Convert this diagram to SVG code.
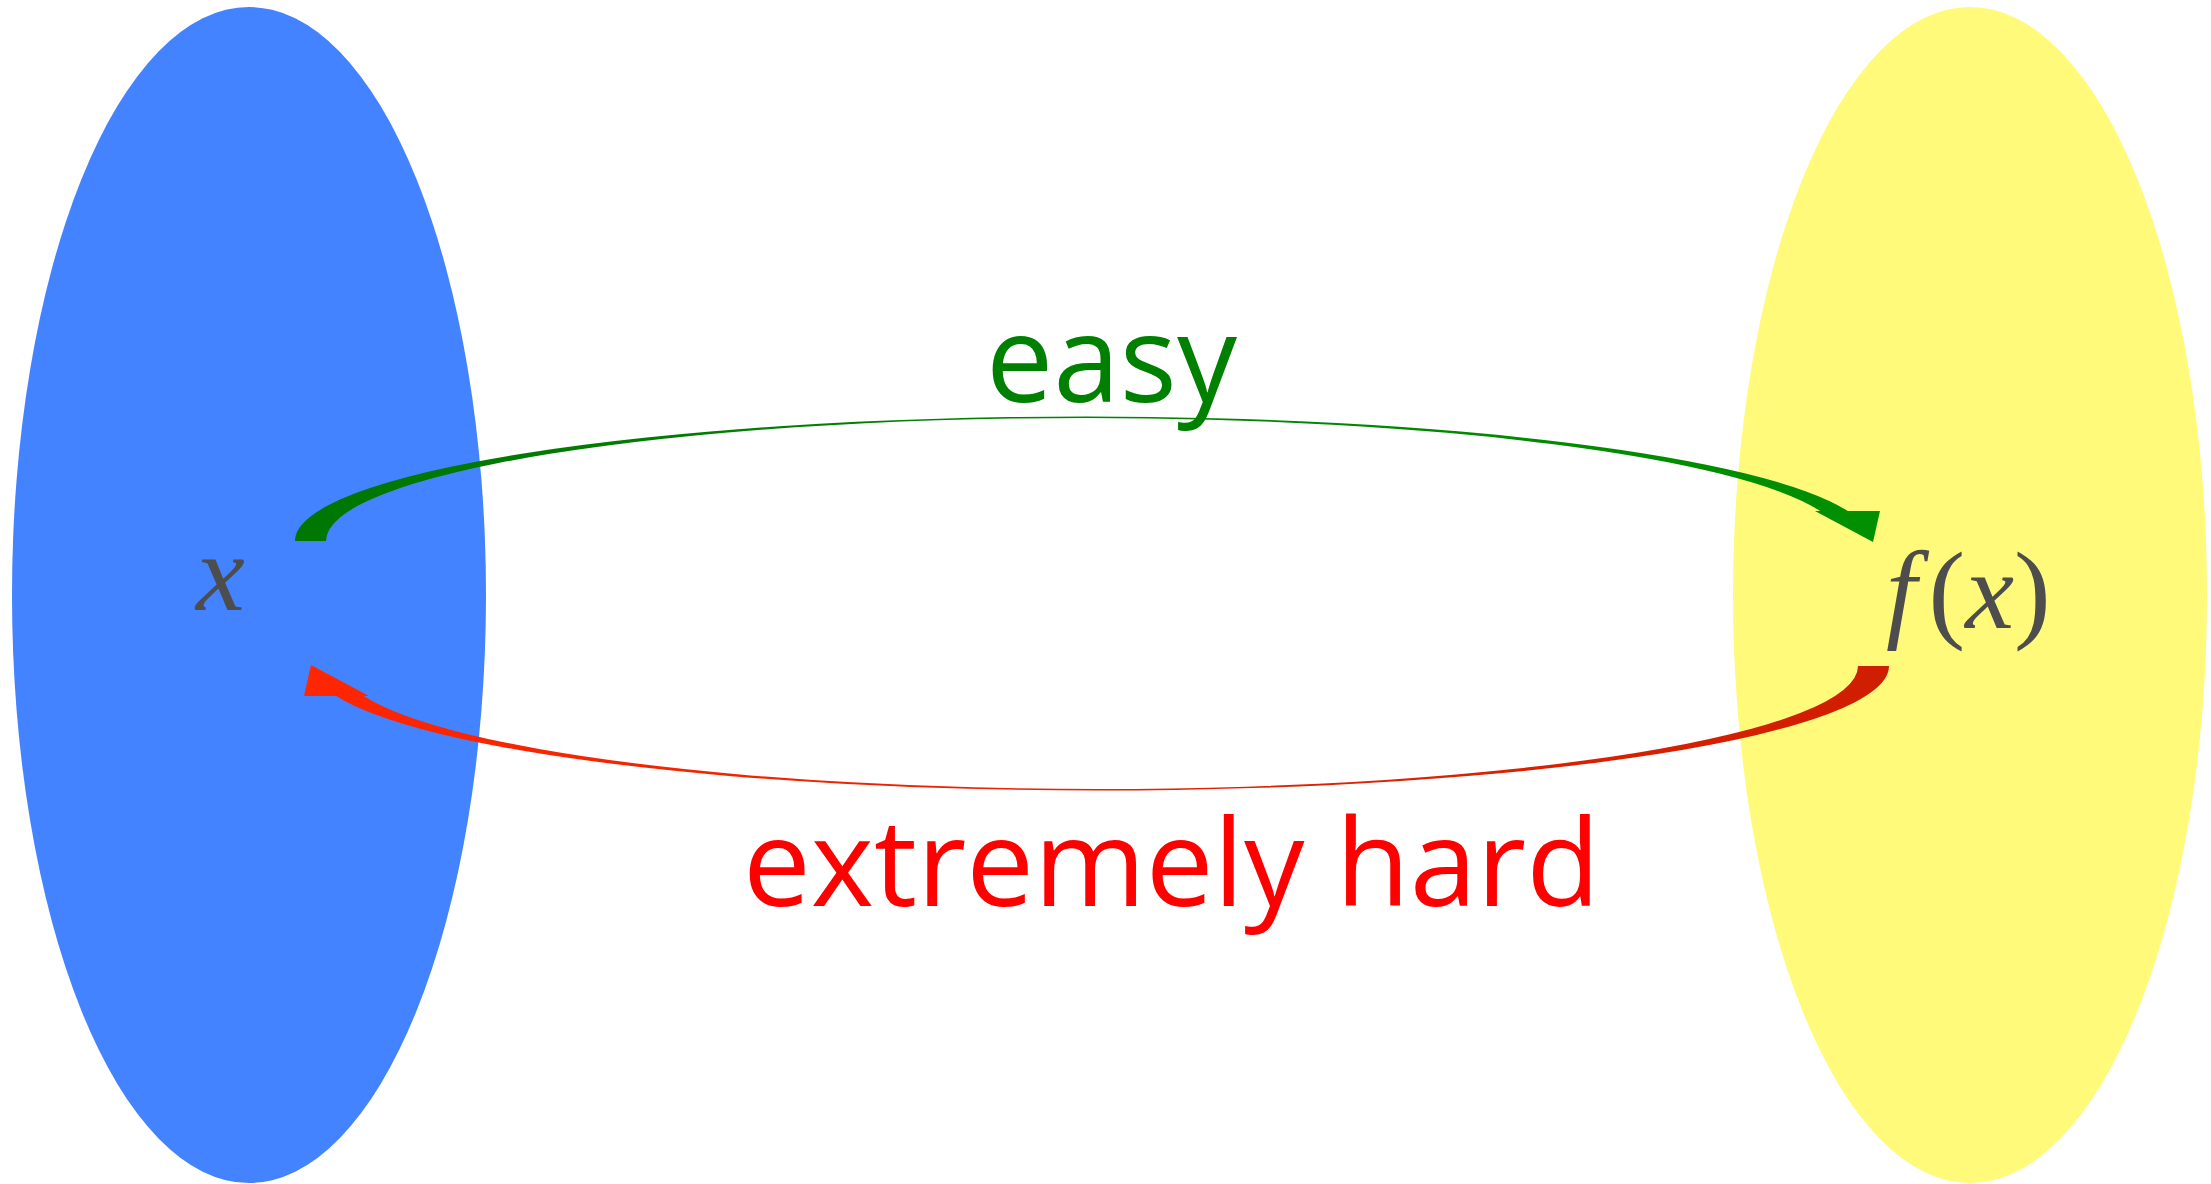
<svg xmlns="http://www.w3.org/2000/svg" width="2211" height="1184" viewBox="0 0 2211 1184">
  <style>
    .math { font-family: "Liberation Serif", "DejaVu Serif", serif; font-size: 110px; fill: #4d4d4d; }
    .it { font-style: italic; }
    .lbl { font-family: "Open Sans", "Noto Sans", "DejaVu Sans", sans-serif; font-size: 120px; }
  </style>
  <defs>
    <linearGradient id="gGreen" gradientUnits="userSpaceOnUse" x1="300" y1="0" x2="1880" y2="0">
      <stop offset="0" stop-color="#007700"/>
      <stop offset="1" stop-color="#009000"/>
    </linearGradient>
    <linearGradient id="gRed" gradientUnits="userSpaceOnUse" x1="300" y1="0" x2="1880" y2="0">
      <stop offset="0" stop-color="#D01E00"/>
      <stop offset="1" stop-color="#FF2600"/>
    </linearGradient>
    <g id="arrowShape">
      <path d="M 295,541 A 791,124.5 0 0 1 1086,416.5 A 785,124.5 0 0 1 1847.8,511 L 1820.2,511 A 757,123 0 0 0 1086,418 A 760,123 0 0 0 326,541 Z"/>
      <polygon points="1815,511 1880,511 1873,542"/>
    </g>
  </defs>

  <rect width="2211" height="1184" fill="#ffffff"/>

  <g id="domain">
    <ellipse cx="249" cy="595" rx="237" ry="588" fill="#4483FF"/>
    <text class="math it" x="196" y="610">x</text>
  </g>

  <g id="codomain">
    <ellipse cx="1970" cy="595" rx="237" ry="588" fill="#FFFA7A"/>
    <text class="math" x="1886" y="628"><tspan class="it">f</tspan><tspan dx="12">(</tspan><tspan class="it">x</tspan><tspan>)</tspan></text>
  </g>

  <g id="connectors">
    <g id="easy-arrow" fill="url(#gGreen)">
      <use href="#arrowShape"/>
    </g>
    <g id="hard-arrow" fill="url(#gRed)" transform="rotate(180 1092 603.5)">
      <use href="#arrowShape"/>
    </g>
    <text class="lbl" x="986" y="402" fill="#008000" textLength="251" lengthAdjust="spacingAndGlyphs">easy</text>
    <text class="lbl" x="743" y="906" fill="#FF0000" textLength="857" lengthAdjust="spacingAndGlyphs">extremely hard</text>
  </g>
</svg>
